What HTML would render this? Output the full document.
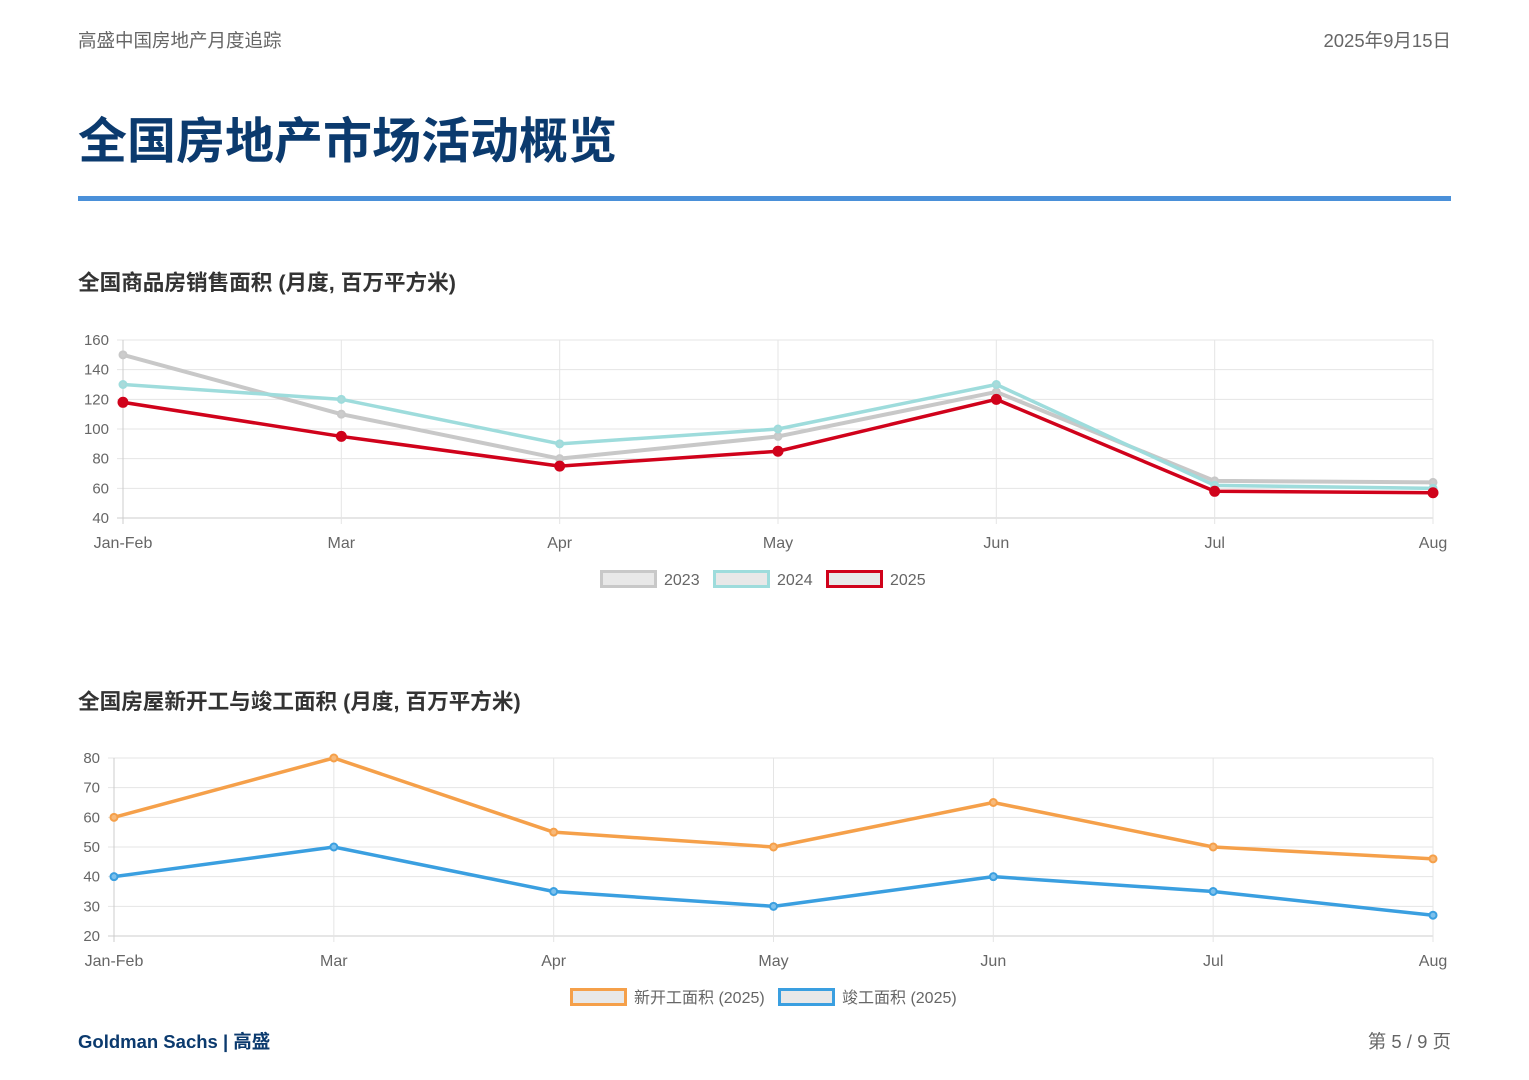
<!DOCTYPE html>
<html><head><meta charset="utf-8">
<style>
body{margin:0;width:1529px;height:1080px;background:#fff;font-family:"Liberation Sans","Noto Sans CJK SC",sans-serif;position:relative;overflow:hidden}
.abs{position:absolute}
</style></head><body>
<div class="abs" style="left:78px;top:27px;font-size:18.5px;color:#666">高盛中国房地产月度追踪</div>
<div class="abs" style="right:78px;top:27px;font-size:18.5px;color:#666">2025年9月15日</div>
<div class="abs" style="left:78px;top:102px;font-size:49px;font-weight:bold;color:#0b3a6e">全国房地产市场活动概览</div>
<div class="abs" style="left:78px;top:196px;width:1373px;height:5px;background:#4a90d9"></div>
<div class="abs" style="left:78px;top:266px;font-size:21.6px;font-weight:bold;color:#333">全国商品房销售面积 (月度, 百万平方米)</div>
<div class="abs" style="left:78px;top:685px;font-size:21.6px;font-weight:bold;color:#333">全国房屋新开工与竣工面积 (月度, 百万平方米)</div>
<div class="abs" style="left:78px;top:1028px;font-size:18.5px;font-weight:bold;color:#0b3a6e">Goldman Sachs | 高盛</div>
<div class="abs" style="right:78px;top:1028px;font-size:18.5px;color:#666">第 5 / 9 页</div>
<svg id="svg" class="abs" style="left:0;top:0" width="1529" height="1080"></svg>
<script>
const months=["Jan-Feb","Mar","Apr","May","Jun","Jul","Aug"];
const sales2023=[150,110,80,95,125,65,64];
const sales2024=[130,120,90,100,130,62,60];
const sales2025=[118,95,75,85,120,58,57];
const ticks1=[40,60,80,100,120,140,160];
const starts2025=[60,80,55,50,65,50,46];
const completions2025=[40,50,35,30,40,35,27];
const ticks2=[20,30,40,50,60,70,80];
const NS="http://www.w3.org/2000/svg";
const svg=document.getElementById('svg');
function mk(t,a,p){const e=document.createElementNS(NS,t);for(const k in a)e.setAttribute(k,a[k]);(p||svg).appendChild(e);return e;}
function chart(c){
  const g=mk('g',{});
  
  
  const x=i=>c.x0+(c.x1-c.x0)*i/(months.length-1);
  const y=v=>c.yb-(c.yb-c.yt)*(v-c.min)/(c.max-c.min);
  c.ticks.forEach(t=>{
    mk('line',{x1:c.x0-6,x2:c.x1,y1:y(t),y2:y(t),stroke:t===c.min?'#ccc':'#e5e5e5'},g);
    const tx=mk('text',{x:c.x0-14,y:y(t)+5,'text-anchor':'end','font-size':15,fill:'#666'},g);tx.textContent=t;
    
    
  });
  months.forEach((m,i)=>{
    mk('line',{x1:x(i),x2:x(i),y1:c.yt,y2:c.yb+6,stroke:i===0?'#ccc':'#e5e5e5'},g);
    const tx=mk('text',{x:x(i),y:c.yb+30,'text-anchor':'middle','font-size':16,fill:'#666'},g);tx.textContent=m;
    
    
  });
  c.series.forEach(s=>{
    const p=mk('polyline',{points:s.data.map((v,i)=>x(i)+','+y(v)).join(' '),fill:'none',stroke:s.color,'stroke-width':s.w,'stroke-linejoin':'round'},g);
    
    
    s.data.forEach((v,i)=>{
      const pt=mk('circle',{cx:x(i),cy:y(v),r:s.r,fill:s.fill,stroke:s.color,'stroke-width':2},g);
      
      
    });
  });
  c.legend.forEach(l=>{
    const lg=mk('g',{},g);
    
    
    mk('rect',{x:l.x+1.5,y:c.ly-7.5,width:54,height:15,fill:'#e8e8e8',stroke:l.color,'stroke-width':3},lg);
    const t=mk('text',{x:l.x+64,y:c.ly+6,'font-size':16,fill:'#666'},lg);t.textContent=l.label;
  });
}
chart({name:'sales-chart',x0:123,x1:1433,yt:340,yb:518,min:40,max:160,ticks:ticks1,ly:579,
 series:[{label:'2023',data:sales2023,color:'#c8c8c8',w:4,r:3.5,fill:'#ccc'},
         {label:'2024',data:sales2024,color:'#9edcdc',w:3.5,r:3.5,fill:'#aadada'},
         {label:'2025',data:sales2025,color:'#d0021b',w:3.5,r:4.5,fill:'#d0021b'}],
 legend:[{x:600,label:'2023',color:'#c8c8c8'},{x:713,label:'2024',color:'#9edcdc'},{x:826,label:'2025',color:'#d0021b'}]});
chart({name:'construction-chart',x0:114,x1:1433,yt:758,yb:936,min:20,max:80,ticks:ticks2,ly:997,
 series:[{label:'starts',data:starts2025,color:'#f5a04a',w:3.5,r:3.5,fill:'#f7b97a'},
         {label:'completions',data:completions2025,color:'#3a9fe0',w:3.5,r:3.5,fill:'#7cc0ec'}],
 legend:[{x:570,label:'新开工面积 (2025)',color:'#f5a04a'},{x:778,label:'竣工面积 (2025)',color:'#3a9fe0'}]});
</script>
</body></html>
